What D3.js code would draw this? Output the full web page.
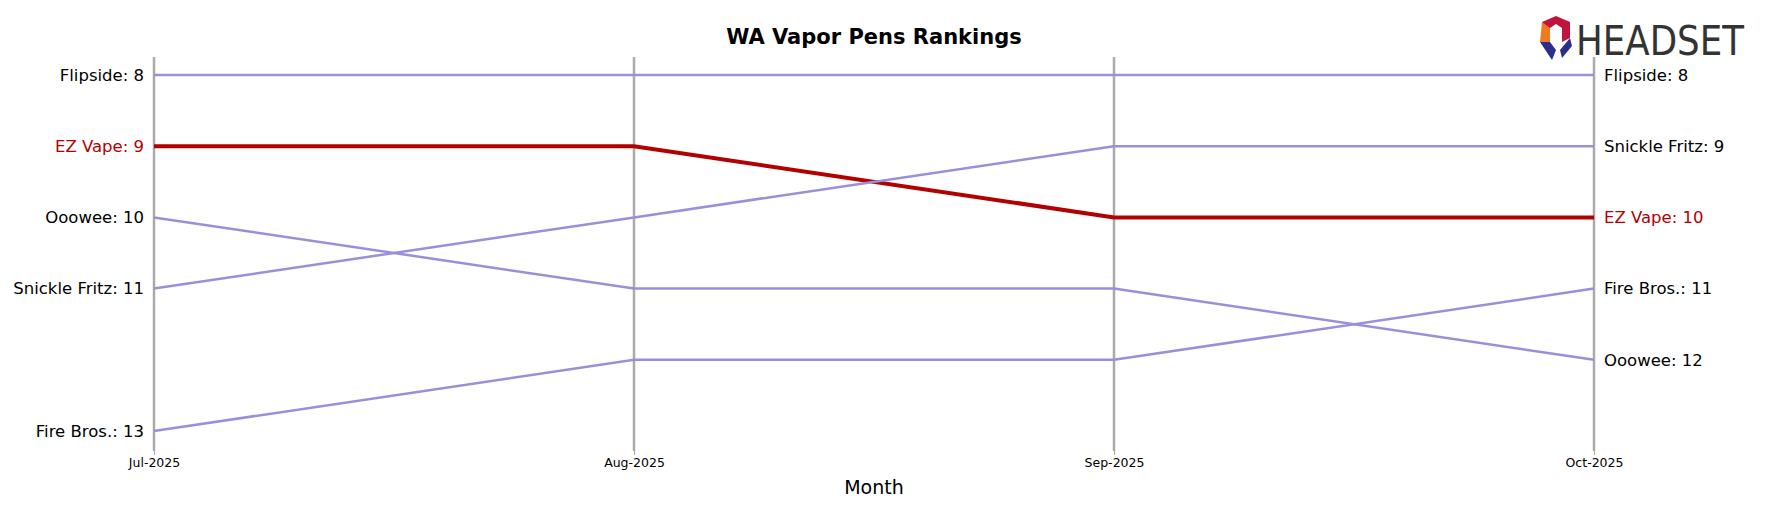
<!DOCTYPE html><html><head><meta charset="utf-8"><script src="https://cdn.jsdelivr.net/npm/d3@7"></script>
<style>body{margin:0;background:#fff}text{font-family:"DejaVu Sans",sans-serif}</style></head><body><svg id="c" width="1778" height="507"></svg><script>
const months=["Jul-2025","Aug-2025","Sep-2025","Oct-2025"];
const brands=["Flipside","EZ Vape","Ooowee","Snickle Fritz","Fire Bros."];
const flipside=[8,8,8,8];
const ezVape=[9,9,10,10];
const ooowee=[10,11,11,12];
const snickle=[11,10,9,9];
const fireBros=[13,12,12,11];
const series=[flipside,ezVape,ooowee,snickle,fireBros];
const svg=d3.select("#c");
const x=d3.scalePoint().domain(months).range([154,1594]);
const y=d3.scaleLinear().domain([8,13]).range([75,431]);
svg.selectAll(".g").data(months).join("line").attr("x1",d=>x(d)).attr("x2",d=>x(d)).attr("y1",57).attr("y2",451).attr("stroke","#aaa").attr("stroke-width",2.5);
const ax=svg.append("g").attr("transform","translate(0,451)").call(d3.axisBottom(x).tickSize(4));
ax.select(".domain").remove();ax.selectAll("text").attr("font-size",12.5).attr("fill","#000");ax.selectAll("line").attr("stroke","#aaa");
const line=d3.line().x((d,i)=>x(months[i])).y(d=>y(d));
series.forEach((s,k)=>{const hl=k===1;
svg.append("path").attr("d",line(s)).attr("fill","none").attr("stroke",hl?"#b30000":"#9b8fdc").attr("stroke-width",hl?4:2.5);
svg.append("text").attr("x",x(months[0])-10).attr("y",y(s[0])).attr("dy","0.35em").attr("text-anchor","end").attr("font-size",16.5).attr("fill",hl?"#b30000":"#000").text(brands[k]+": "+s[0]);
svg.append("text").attr("x",x(months[3])+10).attr("y",y(s[3])).attr("dy","0.35em").attr("font-size",16.5).attr("fill",hl?"#b30000":"#000").text(brands[k]+": "+s[3]);});
svg.append("text").attr("x",874).attr("y",44).attr("text-anchor","middle").attr("font-size",21).attr("font-weight","bold").text("WA Vapor Pens Rankings");
svg.append("text").attr("x",874).attr("y",494).attr("text-anchor","middle").attr("font-size",19).text("Month");
const lg=svg.append("g").attr("transform","translate(1562,38)");
lg.append("path").attr("d","M-20,-16 L-6,-22 L8,-16 L8,0 L0,4 L0,-10 L-6,-14 L-12,-10 L-12,0 Z").attr("fill","#c0143c");
lg.append("path").attr("d","M-20,-16 L-12,-10 L-12,4 L-22,4 Z").attr("fill","#f07a20");
lg.append("path").attr("d","M-22,4 L-12,4 L-6,12 L-10,22 Z").attr("fill","#2b2f8c");
lg.append("path").attr("d","M8,0 L10,8 L0,20 L-2,12 Z").attr("fill","#2b2f8c");
lg.append("text").attr("x",14).attr("y",17).attr("font-size",40).attr("font-family","Liberation Sans Narrow, Liberation Sans, sans-serif").attr("textLength",168).attr("lengthAdjust","spacingAndGlyphs").attr("fill","#333").text("HEADSET");
</script></body></html>
